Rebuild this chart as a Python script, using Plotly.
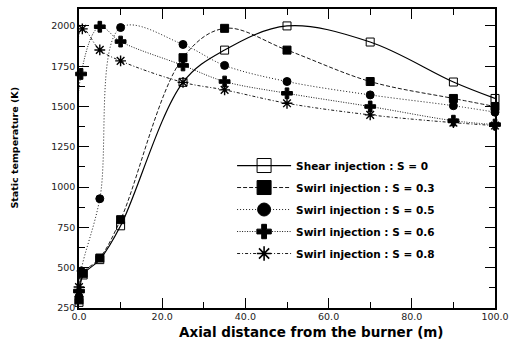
import plotly.graph_objects as go

# ---- data ----
x_s0 = [0, 1, 5, 10, 25, 35, 50, 70, 90, 100]
y_s0 = [285, 455, 550, 760, 1650, 1850, 2000, 1900, 1652, 1550]

x_s03 = [0, 1, 5, 10, 25, 35, 50, 70, 90, 100]
y_s03 = [300, 465, 560, 798, 1803, 1985, 1850, 1655, 1550, 1500]

x_s05 = [0, 0.5, 5, 10, 25, 35, 50, 70, 90, 100]
y_s05 = [320, 480, 928, 1990, 1885, 1755, 1655, 1572, 1505, 1465]

x_s06 = [0, 0.5, 5, 10, 25, 35, 50, 70, 90, 100]
y_s06 = [355, 1702, 1995, 1903, 1755, 1655, 1582, 1500, 1412, 1388]

x_s08 = [0, 0.8, 5, 10, 25, 35, 50, 70, 90, 100]
y_s08 = [380, 1982, 1851, 1783, 1650, 1603, 1520, 1448, 1400, 1382]

names = ["Shear injection : S = 0",
         "Swirl injection : S = 0.3",
         "Swirl injection : S = 0.5",
         "Swirl injection : S = 0.6",
         "Swirl injection : S = 0.8"]

y_ticks = [250, 500, 750, 1000, 1250, 1500, 1750, 2000]
x_ticks = [0, 20, 40, 60, 80, 100]
x_ticktext = ["0.0", "20.0", "40.0", "60.0", "80.0", "100.0"]

styles = [
    dict(dash="solid", width=1.2, symbol="square-open", size=8, lsize=14),
    dict(dash="4px,2px", width=0.9, symbol="square", size=8, lsize=14),
    dict(dash="1px,2px", width=0.9, symbol="circle", size=8, lsize=13),
    dict(dash="1px,1.5px", width=0.9, symbol="cross", size=9, lsize=12),
    dict(dash="3px,2px,1px,2px", width=0.9, symbol="asterisk-open", size=9, lsize=12),
]

series = [(x_s0, y_s0), (x_s03, y_s03), (x_s05, y_s05), (x_s06, y_s06), (x_s08, y_s08)]

FONT = "DejaVu Sans, sans-serif"

fig = go.Figure()
for i, ((xs, ys), nm, st) in enumerate(zip(series, names, styles)):
    mlw = 1.4 if "asterisk" in st["symbol"] else 1
    fig.add_trace(go.Scatter(
        x=xs, y=ys, name=nm, mode="lines+markers", showlegend=False,
        line=dict(color="black", width=st["width"], dash=st["dash"],
                  shape="spline", smoothing=1.0),
        marker=dict(symbol=st["symbol"], size=st["size"], color="black",
                    line=dict(color="black", width=mlw)),
        cliponaxis=False, legendgroup=str(i),
    ))
    # legend-only entry with larger sample marker
    fig.add_trace(go.Scatter(
        x=[None], y=[None], name=nm, mode="lines+markers", showlegend=True,
        line=dict(color="black", width=st["width"], dash=st["dash"]),
        marker=dict(symbol=st["symbol"], size=st["lsize"], color="black",
                    line=dict(color="black", width=1.6 if "asterisk" in st["symbol"] else 1)),
        legendgroup=str(i),
    ))

axis_common = dict(
    showline=True, linecolor="black", linewidth=1.5, mirror="allticks",
    ticks="inside", ticklen=10, tickwidth=1, tickcolor="black",
    showgrid=False, zeroline=False, automargin=False,
    tickfont=dict(family=FONT, size=9.5, color="#222"),
)

fig.update_xaxes(
    range=[0, 100], tickvals=x_ticks, ticktext=x_ticktext,
    minor=dict(dtick=10, tick0=0, ticks="inside", ticklen=6, tickcolor="black", showgrid=False),
    ticklabelstandoff=-1,
    **axis_common,
)
fig.update_yaxes(
    range=[250, 2105], tickvals=y_ticks,
    minor=dict(dtick=125, tick0=250, ticks="inside", ticklen=6, tickcolor="black", showgrid=False),
    **axis_common,
)

# axis titles as paper-anchored annotations (exact placement)
fig.add_annotation(text="<b>Axial distance from the burner (m)</b>",
                   xref="paper", yref="paper", x=0.56, y=-0.079,
                   xanchor="center", yanchor="middle", showarrow=False,
                   font=dict(family=FONT, size=13.5, color="black"))
fig.add_annotation(text="<b>Static temperature (K)</b>",
                   xref="paper", yref="paper", x=-0.155, y=0.535,
                   xanchor="center", yanchor="middle", textangle=-90, showarrow=False,
                   font=dict(family=FONT, size=9.5, color="black"))

fig.update_layout(
    width=509, height=340,
    margin=dict(l=79, r=14, t=9, b=32),
    paper_bgcolor="white", plot_bgcolor="white",
    showlegend=True,
    legend=dict(x=0.368, y=0.525, xanchor="left", yanchor="top",
                bgcolor="rgba(0,0,0,0)", borderwidth=0,
                font=dict(family=FONT, size=10.5, color="black", weight="bold"),
                itemwidth=54, tracegroupgap=3, itemsizing="trace"),
)

fig.write_html("out.html")
